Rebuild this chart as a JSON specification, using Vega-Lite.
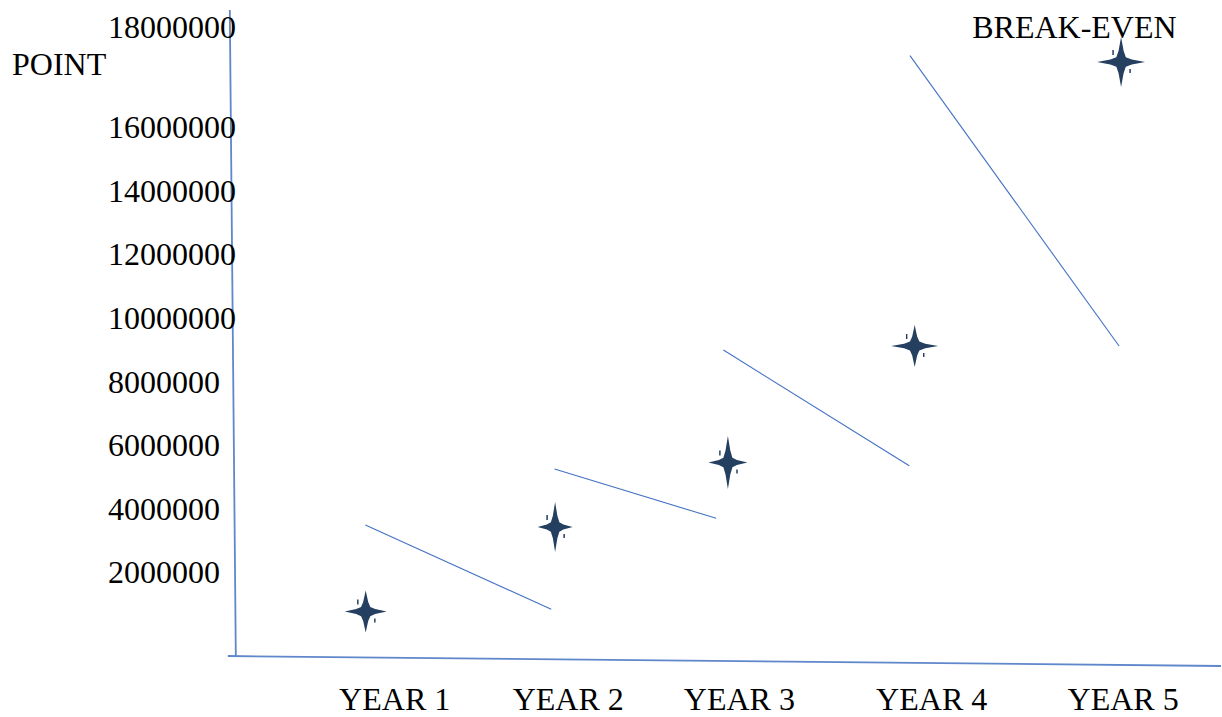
{
  "$schema": "https://vega.github.io/schema/vega-lite/v6.json",
  "width": 1222,
  "height": 717,
  "autosize": {"type": "fit", "contains": "padding"},
  "padding": 0,
  "background": "white",
  "config": {"view": {"stroke": null}},
  "datasets": {
    "stars": [
      {"period": 1, "year": 1.0, "amount": 787000},
      {"period": 2, "year": 2.003, "amount": 3449000},
      {"period": 3, "year": 2.918, "amount": 5480000},
      {"period": 4, "year": 3.907, "amount": 9149000},
      {"period": 5, "year": 5.0, "amount": 18094000}
    ],
    "lines": [
      {"kind": "trend", "year": 0.9984, "amount": 3511800, "year2": 1.9825, "amount2": 856700},
      {"kind": "trend", "year": 2.0, "amount": 5275600, "year2": 2.8556, "amount2": 3722800},
      {"kind": "trend", "year": 2.8942, "amount": 9023600, "year2": 3.8783, "amount2": 5379500},
      {"kind": "trend", "year": 3.882, "amount": 18292900, "year2": 4.9894, "amount2": 9149600},
      {"kind": "axis", "year": 0.2804, "amount": 19732300, "year2": 0.3122, "amount2": -614200},
      {"kind": "axis", "year": 0.2698, "amount": -614200, "year2": 5.5291, "amount2": -929100}
    ],
    "labels": [
      {"kind": "left", "text": "18000000", "year": -0.3651, "amount": 19149600},
      {"kind": "left", "text": "16000000", "year": -0.3651, "amount": 16000000},
      {"kind": "left", "text": "14000000", "year": -0.3651, "amount": 14000000},
      {"kind": "left", "text": "12000000", "year": -0.3651, "amount": 12000000},
      {"kind": "left", "text": "10000000", "year": -0.3651, "amount": 10000000},
      {"kind": "left", "text": "8000000", "year": -0.3651, "amount": 8000000},
      {"kind": "left", "text": "6000000", "year": -0.3651, "amount": 6000000},
      {"kind": "left", "text": "4000000", "year": -0.3651, "amount": 4000000},
      {"kind": "left", "text": "2000000", "year": -0.3651, "amount": 2000000},
      {"kind": "left", "text": "POINT", "year": -0.873, "amount": 18000000},
      {"kind": "left", "text": "BREAK-EVEN", "year": 4.2117, "amount": 19149600},
      {"kind": "center", "text": "YEAR 1", "year": 1.1534, "amount": -1990500},
      {"kind": "center", "text": "YEAR 2", "year": 2.0725, "amount": -1990500},
      {"kind": "center", "text": "YEAR 3", "year": 2.9788, "amount": -1990500},
      {"kind": "center", "text": "YEAR 4", "year": 3.997, "amount": -1990500},
      {"kind": "center", "text": "YEAR 5", "year": 5.0106, "amount": -1990500}
    ]
  },
  "encoding": {
    "x": {"field": "year", "type": "quantitative", "scale": {"domain": [-0.9365, 5.5291], "nice": false, "zero": false}, "axis": null},
    "y": {"field": "amount", "type": "quantitative", "scale": {"domain": [-2535000, 20047000], "nice": false, "zero": false}, "axis": null}
  },
  "layer": [
    {
      "data": {"name": "lines"},
      "transform": [{"filter": "datum.kind == 'axis'"}],
      "mark": {"type": "rule", "color": "#5F87CB", "strokeWidth": 1.8},
      "encoding": {"x2": {"field": "year2"}, "y2": {"field": "amount2"}}
    },
    {
      "data": {"name": "lines"},
      "transform": [{"filter": "datum.kind == 'trend'"}],
      "mark": {"type": "rule", "color": "#4472C4", "strokeWidth": 1.1},
      "encoding": {"x2": {"field": "year2"}, "y2": {"field": "amount2"}}
    },
    {
      "data": {"name": "stars"},
      "transform": [{"filter": "datum.period == 1"}],
      "mark": {"type": "point", "filled": true, "fill": "#243F60", "strokeWidth": 0, "opacity": 1, "size": 1764,
        "shape": "M0,-1 L0.12,-0.45 L0.22,-0.22 L0.45,-0.12 L1,0 L0.45,0.12 L0.22,0.22 L0.12,0.45 L0,1 L-0.12,0.45 L-0.22,0.22 L-0.45,0.12 L-1,0 L-0.45,-0.12 L-0.22,-0.22 L-0.12,-0.45 Z M-0.41,-0.571 L-0.34,-0.571 L-0.34,-0.333 L-0.41,-0.333 Z M0.40,0.333 L0.47,0.333 L0.47,0.524 L0.40,0.524 Z"}
    },
    {
      "data": {"name": "stars"},
      "transform": [{"filter": "datum.period == 2"}],
      "mark": {"type": "point", "filled": true, "fill": "#243F60", "strokeWidth": 0, "opacity": 1, "size": 2500,
        "shape": "M0,-1 L0.09,-0.45 L0.17,-0.19 L0.33,-0.1 L0.7,0 L0.33,0.1 L0.17,0.19 L0.09,0.45 L0,1 L-0.09,0.45 L-0.17,0.19 L-0.33,0.1 L-0.7,0 L-0.33,-0.1 L-0.17,-0.19 L-0.09,-0.45 Z M-0.35,-0.48 L-0.29,-0.48 L-0.29,-0.28 L-0.35,-0.28 Z M0.33,0.28 L0.39,0.28 L0.39,0.44 L0.33,0.44 Z"}
    },
    {
      "data": {"name": "stars"},
      "transform": [{"filter": "datum.period == 3"}],
      "mark": {"type": "point", "filled": true, "fill": "#243F60", "strokeWidth": 0, "opacity": 1, "size": 2809,
        "shape": "M0,-1 L0.09,-0.45 L0.17,-0.18 L0.34,-0.095 L0.736,0 L0.34,0.095 L0.17,0.18 L0.09,0.45 L0,1 L-0.09,0.45 L-0.17,0.18 L-0.34,0.095 L-0.736,0 L-0.34,-0.095 L-0.17,-0.18 L-0.09,-0.45 Z M-0.33,-0.453 L-0.275,-0.453 L-0.275,-0.264 L-0.33,-0.264 Z M0.315,0.264 L0.37,0.264 L0.37,0.415 L0.315,0.415 Z"}
    },
    {
      "data": {"name": "stars"},
      "transform": [{"filter": "datum.period == 4"}],
      "mark": {"type": "point", "filled": true, "fill": "#243F60", "strokeWidth": 0, "opacity": 1, "size": 2209,
        "shape": "M0,-0.894 L0.105,-0.4 L0.2,-0.19 L0.45,-0.1 L1,0 L0.45,0.1 L0.2,0.19 L0.105,0.4 L0,0.894 L-0.105,0.4 L-0.2,0.19 L-0.45,0.1 L-1,0 L-0.45,-0.1 L-0.2,-0.19 L-0.105,-0.4 Z M-0.37,-0.511 L-0.31,-0.511 L-0.31,-0.298 L-0.37,-0.298 Z M0.355,0.298 L0.415,0.298 L0.415,0.468 L0.355,0.468 Z"}
    },
    {
      "data": {"name": "stars"},
      "transform": [{"filter": "datum.period == 5"}],
      "mark": {"type": "point", "filled": true, "fill": "#243F60", "strokeWidth": 0, "opacity": 1, "size": 2500,
        "shape": "M0,-1 L0.1,-0.45 L0.19,-0.19 L0.43,-0.1 L0.96,0 L0.43,0.1 L0.19,0.19 L0.1,0.45 L0,1 L-0.1,0.45 L-0.19,0.19 L-0.43,0.1 L-0.96,0 L-0.43,-0.1 L-0.19,-0.19 L-0.1,-0.45 Z M-0.35,-0.48 L-0.29,-0.48 L-0.29,-0.28 L-0.35,-0.28 Z M0.33,0.28 L0.39,0.28 L0.39,0.44 L0.33,0.44 Z"}
    },
    {
      "data": {"name": "labels"},
      "transform": [{"filter": "datum.kind == 'left'"}],
      "mark": {"type": "text", "align": "left", "baseline": "middle", "font": "Liberation Serif", "fontSize": 32, "color": "#000000"},
      "encoding": {"text": {"field": "text"}}
    },
    {
      "data": {"name": "labels"},
      "transform": [{"filter": "datum.kind == 'center'"}],
      "mark": {"type": "text", "align": "center", "baseline": "middle", "font": "Liberation Serif", "fontSize": 32, "color": "#000000"},
      "encoding": {"text": {"field": "text"}}
    }
  ]
}
